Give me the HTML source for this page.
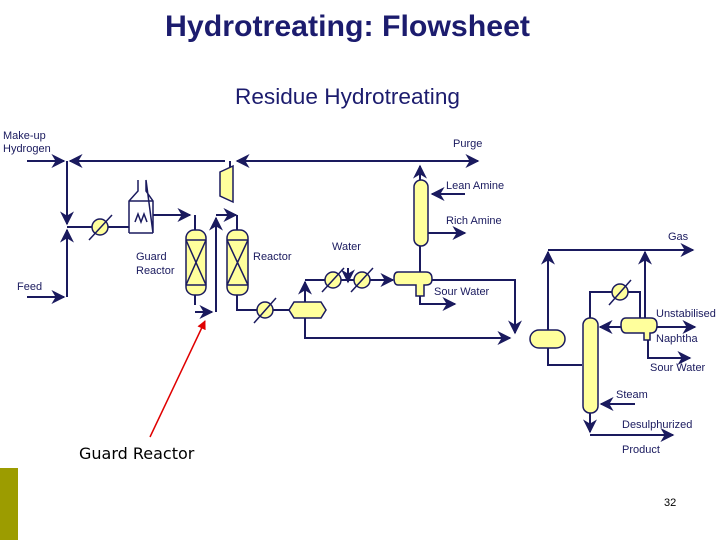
<!DOCTYPE html>
<html><head><meta charset="utf-8"><style>
html,body{margin:0;padding:0;background:#fff;}
svg{display:block;}
</style></head><body>
<svg width="720" height="540" viewBox="0 0 720 540" xmlns="http://www.w3.org/2000/svg" font-family="Liberation Sans, sans-serif">
<defs>
<marker id="a" viewBox="0 0 10 10" refX="9" refY="5" markerWidth="7" markerHeight="7" orient="auto"><path d="M0,0 L10,5 L0,10 L3,5 z" fill="#1a1a5e"/></marker>
<marker id="r" viewBox="0 0 10 10" refX="9" refY="5" markerWidth="6" markerHeight="6" orient="auto"><path d="M0,0 L10,5 L0,10 z" fill="#e00000"/></marker>
</defs>
<text x="165" y="36" font-size="30" font-weight="bold" fill="#1c1c6e" textLength="365" lengthAdjust="spacingAndGlyphs">Hydrotreating: Flowsheet</text>
<text x="235" y="104" font-size="22" fill="#1c1c6e" textLength="225" lengthAdjust="spacingAndGlyphs">Residue Hydrotreating</text>

<g stroke="#1a1a5e" stroke-width="2" fill="none">
<path d="M27,161 H64" marker-end="url(#a)"/>
<path d="M225,161 H70" marker-end="url(#a)"/>
<path d="M420,161 H237" marker-end="url(#a)"/>
<path d="M420,161 H478" marker-end="url(#a)"/>
<path d="M67,161 V224" marker-end="url(#a)"/>
<path d="M27,297 H64" marker-end="url(#a)"/>
<path d="M67,297 V230" marker-end="url(#a)"/>
<path d="M67,227 H130"/>
<path d="M153,215 H190" marker-end="url(#a)"/>
<path d="M195,215 V230"/>
<path d="M195,295 V305"/><path d="M195,312 H212" marker-end="url(#a)"/>
<path d="M216,312 V218" marker-end="url(#a)"/>
<path d="M216,215 H236" marker-end="url(#a)"/>
<path d="M237,215 V230"/>
<path d="M237,295 V310 H290"/>
<path d="M230,183 V161"/>
<path d="M305,302 V282" marker-end="url(#a)"/>
<path d="M305,280 H393" marker-end="url(#a)"/>
<path d="M348,268 V282" marker-end="url(#a)"/>
<path d="M305,318 V338 H510" marker-end="url(#a)"/>
<path d="M420,272 V245"/>
<path d="M420,180 V166" marker-end="url(#a)"/>
<path d="M465,194 H432" marker-end="url(#a)"/>
<path d="M428,233 H465" marker-end="url(#a)"/>
<path d="M430,280 H515 V333" marker-end="url(#a)"/>
<path d="M420,296 V304 H455" marker-end="url(#a)"/>
<path d="M548,330 V252" marker-end="url(#a)"/>
<path d="M548,250 H693" marker-end="url(#a)"/>
<path d="M548,348 V365 H582"/>
<path d="M590,318 V292 H640 V318"/>
<path d="M645,320 V252" marker-end="url(#a)"/>
<path d="M622,327 H600" marker-end="url(#a)"/>
<path d="M655,327 H695" marker-end="url(#a)"/>
<path d="M648,340 V358 H690" marker-end="url(#a)"/>
<path d="M635,404 H601" marker-end="url(#a)"/>
<path d="M590,413 V432" marker-end="url(#a)"/>
<path d="M590,435 H673" marker-end="url(#a)"/>
</g>

<g stroke="#1a1a5e" stroke-width="1.5" fill="#ffff9c">
<path d="M129,233 V201 L138,191 V180 M146,180 V191 L153,201 V233 Z" fill="#fff"/>
<path d="M129,201 H153 M129,233 H153" fill="none"/>
<path d="M135,222 l3,-8 l3,8 l3,-8 l3,8" fill="none"/>
<path d="M220,172 L233,166 V202 L220,196 Z"/>
<rect x="186" y="230" width="20" height="65" rx="8"/>
<rect x="227" y="230" width="21" height="65" rx="8"/>
<path d="M186,240 H206 M186,285 H206 M186,240 L206,285 M206,240 L186,285 M227,240 H248 M227,285 H248 M227,240 L248,285 M248,240 L227,285" fill="none"/>
<path d="M294,302 H321 L326,310 L321,318 H294 L289,310 Z"/>
<path d="M398,272 H426 Q432,272 432,279 Q432,285 426,285 H424 V296 H416 V285 H398 Q394,285 394,278 Q394,272 398,272 Z"/>
<rect x="414" y="180" width="14" height="66" rx="7"/>
<rect x="530" y="330" width="35" height="18" rx="9"/>
<rect x="583" y="318" width="15" height="95" rx="7"/>
<path d="M626,318 H651 Q657,318 657,325 Q657,333 651,333 H650 V340 H644 V333 H626 Q621,333 621,325 Q621,318 626,318 Z"/>
<g>
<circle cx="100" cy="227" r="8"/><circle cx="265" cy="310" r="8"/><circle cx="333" cy="280" r="8"/><circle cx="362" cy="280" r="8"/><circle cx="620" cy="292" r="8"/>
</g>
</g>
<g stroke="#1a1a5e" stroke-width="1.5" fill="none">
<path d="M89,240 L112,215 M254,323 L276,298 M322,292 L344,268 M351,292 L373,268 M609,305 L631,280"/>
</g>

<g fill="#1a1a5e" font-size="11">
<text x="3" y="139">Make-up</text><text x="3" y="152">Hydrogen</text>
<text x="17" y="290">Feed</text>
<text x="136" y="260">Guard</text><text x="136" y="274">Reactor</text>
<text x="253" y="260">Reactor</text>
<text x="332" y="250">Water</text>
<text x="453" y="147">Purge</text>
<text x="446" y="189">Lean Amine</text>
<text x="446" y="224">Rich Amine</text>
<text x="434" y="295">Sour Water</text>
<text x="668" y="240">Gas</text>
<text x="656" y="317">Unstabilised</text>
<text x="656" y="342">Naphtha</text>
<text x="650" y="371">Sour Water</text>
<text x="616" y="398">Steam</text>
<text x="622" y="428">Desulphurized</text>
<text x="622" y="453">Product</text>
</g>

<line x1="150" y1="437" x2="205" y2="321" stroke="#e00000" stroke-width="1.5" marker-end="url(#r)"/>
<text x="79" y="459" font-family="DejaVu Sans, sans-serif" font-size="16" fill="#000">Guard Reactor</text>
<rect x="0" y="468" width="18" height="72" fill="#9c9c00"/>
<text x="664" y="506" font-size="11" fill="#000">32</text>
</svg>
</body></html>
